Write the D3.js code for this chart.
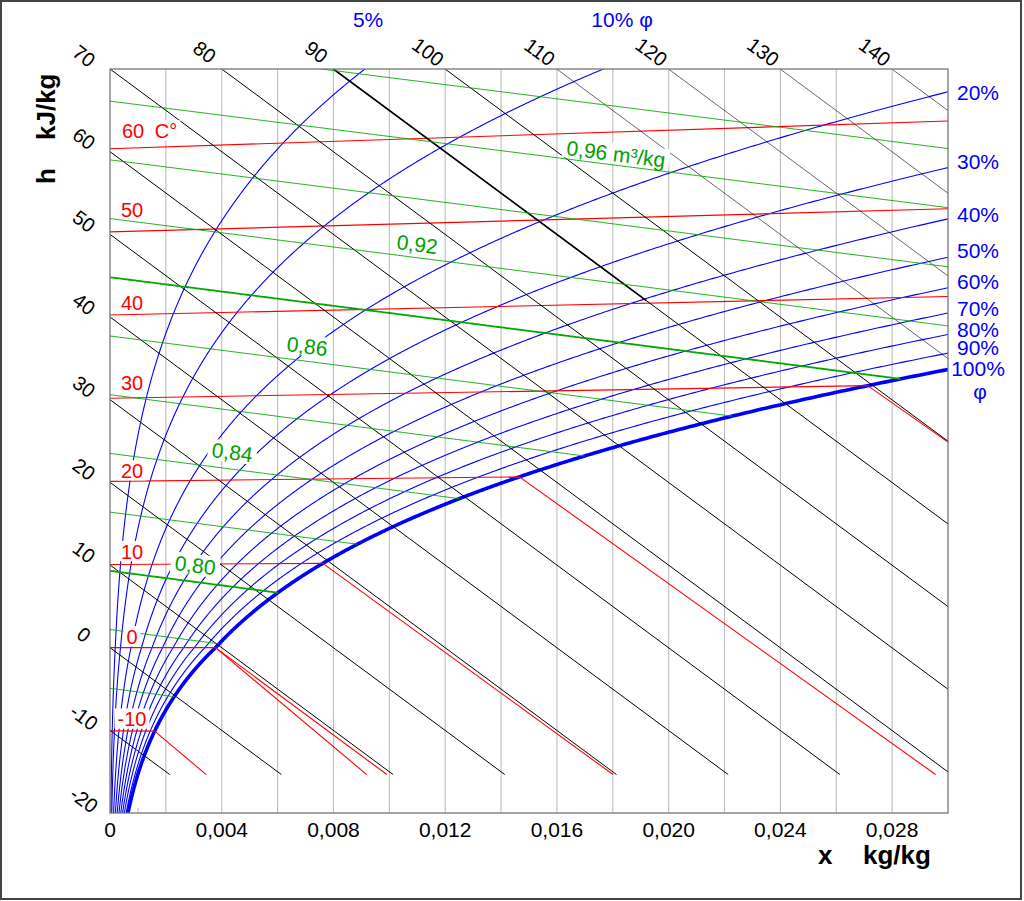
<!DOCTYPE html>
<html><head><meta charset="utf-8">
<script src="https://cdn.jsdelivr.net/npm/d3@7"></script>
<style>html,body{margin:0;padding:0;background:#fff;overflow:hidden}svg{display:block;font-family:"Liberation Sans",Arial,sans-serif}</style>
</head><body>
<svg id="chart" width="1024" height="901"></svg>
<script>
// ---------------- data ----------------
const xTicks = [0, 0.004, 0.008, 0.012, 0.016, 0.020, 0.024, 0.028];
const xTickLabels = ["0", "0,004", "0,008", "0,012", "0,016", "0,020", "0,024", "0,028"];
const xGrid = [0.002, 0.004, 0.006, 0.008, 0.010, 0.012, 0.014, 0.016, 0.018, 0.020, 0.022, 0.024, 0.026, 0.028];
const enthalpyValues = [-20, -10, 0, 10, 20, 30, 40, 50, 60, 70, 80, 90, 100, 110, 120, 130, 140];
const enthalpyLabels = ["-20", "-10", "0", "10", "20", "30", "40", "50", "60", "70", "80", "90", "100", "110", "120", "130", "140"];
const isothermValues = [-10, 0, 10, 20, 30, 40, 50, 60];
const isothermLabels = ["-10", "0", "10", "20", "30", "40", "50", "60 C°"];
const fogTemps = [-10, 0, 0, 10, 20, 30];
const fogPhases = ["ice", "ice", "water", "water", "water", "water"];
const phiValues = [0.05, 0.10, 0.20, 0.30, 0.40, 0.50, 0.60, 0.70, 0.80, 0.90, 1.00];
const phiLabels = ["5%", "10% φ", "20%", "30%", "40%", "50%", "60%", "70%", "80%", "90%", "100%"];
const volumeValues = [0.76, 0.78, 0.80, 0.82, 0.84, 0.86, 0.88, 0.90, 0.92, 0.94, 0.96, 0.98];
const volumeLabels = ["0,80", "0,84", "0,86", "0,92", "0,96 m³/kg"];
// label anchors in chart units (x kg/kg, h - r0·x kJ/kg)
const volumeLabelX = [0.00229, 0.00362, 0.0063, 0.01024, 0.01632];
const volumeLabelY = [9.39, 23.06, 35.88, 48.22, 59.59];

// ---------------- psychrometric relations (p = 101325 Pa) ----------------
const P = 101325, R0 = 2501, CPA = 1.006, CPV = 1.86;
const ps = T => T >= 0 ? 611.2 * Math.exp(17.62 * T / (243.12 + T)) : 611.2 * Math.exp(22.46 * T / (272.62 + T));
const xOf = (T, phi) => { const pv = phi * ps(T); return 0.622 * pv / (P - pv); };
const yOf = (T, x) => CPA * T + CPV * T * x;        // h - r0·x
const tOfV = (v, x) => v * P / (287.05 * (1 + 1.6078 * x)) - 273.15;
const Y_END = -15.35;

// ---------------- scales ----------------
const X = d3.scaleLinear().domain([0, 0.03]).range([110, 948]);
const Y = d3.scaleLinear().domain([-20, 70]).range([813, 69]);
const line = d3.line().x(d => X(d[0])).y(d => Y(d[1]));

const svg = d3.select("#chart");
svg.append("rect").attr("x", 1).attr("y", 1).attr("width", 1020).attr("height", 898)
  .attr("fill", "#fff").attr("stroke", "#444").attr("stroke-width", 2);
svg.append("clipPath").attr("id", "plotclip").append("rect")
  .attr("x", X(0)).attr("y", Y(70)).attr("width", X(0.03) - X(0)).attr("height", Y(-20) - Y(70));

const plot = svg.append("g").attr("clip-path", "url(#plotclip)");
const gGrid = plot.append("g"), gBlue = plot.append("g"), gRed = plot.append("g"), gBlack = plot.append("g");
const gGreenBg = plot.append("g"), gGreen = plot.append("g"), gRedBg = plot.append("g");
const gText = svg.append("g");

// grid
gGrid.selectAll("line").data(xGrid).join("line")
  .attr("x1", d => X(d)).attr("x2", d => X(d)).attr("y1", Y(70)).attr("y2", Y(-20))
  .attr("stroke", "#bdbdbd").attr("stroke-width", 1.1);
gGrid.append("line").attr("x1", X(0.001)).attr("x2", X(0.001)).attr("y1", Y(-20) - 5).attr("y2", Y(-20))
  .attr("stroke", "#bdbdbd").attr("stroke-width", 1.1);

// relative humidity curves
const phiCurves = phiValues.map(phi => {
  const pts = [];
  for (let T = -30; T <= 100; T += 0.1) {
    const x = xOf(T, phi); const yv = yOf(T, x);
    pts.push([x, yv]);
    if (x > 0.031 || yv > 71) break;
  }
  return pts;
});
gBlue.selectAll("path").data(phiCurves).join("path")
  .attr("d", line).attr("fill", "none").attr("stroke", "#0000ff")
  .attr("stroke-width", (d, i) => phiValues[i] === 1 ? 3.6 : 1.1);

// isotherms (unsaturated part)
const isoSegs = isothermValues.map(T => {
  const xe = Math.min(xOf(T, 1), 0.03);
  return [[0, yOf(T, 0)], [xe, yOf(T, xe)]];
});
gRed.selectAll("path.iso").data(isoSegs).join("path").attr("class", "iso")
  .attr("d", line).attr("fill", "none").attr("stroke", "#ff0000").attr("stroke-width", 1.1);
// fog isotherms
const fogSegs = fogTemps.map((T, i) => {
  const xs = xOf(T, 1), ys = yOf(T, xs);
  const hl = fogPhases[i] === "ice" ? -333.4 + 2.05 * T : 4.19 * T;
  const s = hl - R0;
  let xe = xs + (Y_END - ys) / s;
  if (xe > 0.03) xe = 0.03;
  return [[xs, ys], [xe, ys + s * (xe - xs)]];
});
gRed.selectAll("path.fog").data(fogSegs).join("path").attr("class", "fog")
  .attr("d", line).attr("fill", "none").attr("stroke", "#ff0000").attr("stroke-width", 1.1);

// enthalpy lines
const hSegs = enthalpyValues.filter(h => h > Y_END).map(h => {
  const x0 = h <= 70 ? 0 : (h - 70) / R0;
  const xe = Math.min(0.03, (h - Y_END) / R0);
  return { h, pts: [[x0, h - R0 * x0], [xe, h - R0 * xe]] };
});
gBlack.selectAll("path.h").data(hSegs).join("path").attr("class", "h")
  .attr("d", d => line(d.pts)).attr("fill", "none").attr("stroke", "#000")
  .attr("stroke-width", d => d.h >= 110 ? 0.6 : 1.0);
// the 90 kJ/kg line is drawn heavier in its upper part
const h90 = 90, x90a = (h90 - 70) / R0, x90b = 0.0192;
gBlack.append("path").attr("d", line([[x90a, h90 - R0 * x90a], [x90b, h90 - R0 * x90b]]))
  .attr("fill", "none").attr("stroke", "#000").attr("stroke-width", 1.7);

// specific volume lines (end at saturation)
const volCurves = volumeValues.map(v => {
  const pts = [];
  let prev = 0;
  for (let x = 0; x <= 0.0301; x += 0.0001) {
    const T = tOfV(v, x);
    if (x > xOf(T, 1)) {
      let a = prev, b = x;
      for (let k = 0; k < 40; k++) { const m = (a + b) / 2; if (m > xOf(tOfV(v, m), 1)) b = m; else a = m; }
      const Te = tOfV(v, a); pts.push([a, yOf(Te, a)]);
      break;
    }
    pts.push([x, yOf(T, x)]);
    prev = x;
  }
  return pts;
});
gGreen.selectAll("path").data(volCurves).join("path")
  .attr("d", line).attr("fill", "none").attr("stroke", "#00a800")
  .attr("stroke-width", (d, i) => (Math.abs(volumeValues[i] - 0.80) < 1e-6 || Math.abs(volumeValues[i] - 0.90) < 1e-6) ? 1.8 : 0.9);

// ---------------- labels ----------------
function label(str, px, py, opt) {
  const o = Object.assign({ angle: 0, anchor: "start", fs: 20, color: "#000", weight: "normal", bg: null, pad: 4, ws: 0 }, opt);
  const tr = `translate(${px},${py}) rotate(${o.angle})`;
  const t = gText.append("text").attr("transform", tr).attr("text-anchor", o.anchor)
    .attr("font-size", o.fs).attr("font-weight", o.weight).attr("fill", o.color)
    .attr("word-spacing", o.ws).text(str);
  if (o.bg) {
    const w = t.node().getComputedTextLength();
    const x0 = o.anchor === "middle" ? -w / 2 : (o.anchor === "end" ? -w : 0);
    o.bg.append("rect").attr("transform", tr).attr("x", x0 - o.pad).attr("y", -0.74 * o.fs - 3)
      .attr("width", w + 2 * o.pad).attr("height", 0.74 * o.fs + 5.5).attr("fill", "#fff");
  }
  return t;
}

// x axis
xTicks.forEach((t, i) => label(xTickLabels[i], X(t), 837, { anchor: "middle", fs: 21 }));
label("x", 818, 864, { fs: 26, weight: "bold" });
label("kg/kg", 863, 864, { fs: 26, weight: "bold" });
// h axis title
label("h", 55, 184, { fs: 26, weight: "bold", angle: -90 });
label("kJ/kg", 55, 140, { fs: 26, weight: "bold", angle: -90 });

// enthalpy labels
const slopeAngle = Math.atan((Y(-R0 * 0.01) - Y(0)) / (X(0.01) - X(0))) * 180 / Math.PI;
enthalpyValues.forEach((h, i) => {
  let cx, cy;
  if (h <= 70) { cx = X(0) - 26; cy = Y(h) - 13; }
  else { cx = X((h - 70) / R0) - 17; cy = 52; }
  label(enthalpyLabels[i], cx, cy, { anchor: "middle", fs: 20, angle: slopeAngle })
    .attr("dominant-baseline", "central");
});

// isotherm labels
const isoLabelDy = [-4.6, -3.7, -5.8, -3.4, -8.3, -5, -15.3, -10.7];
isothermValues.forEach((T, i) => {
  const py = Y(yOf(T, 0)) + isoLabelDy[i];
  if (i === isothermValues.length - 1) label(isothermLabels[i], 122, py, { fs: 20, color: "#ff0000", bg: gRedBg, pad: 3, ws: 5 });
  else label(isothermLabels[i], 132, py, { anchor: "middle", fs: 20, color: "#ff0000", bg: gRedBg, pad: 3 });
});

// specific volume labels
volumeLabels.forEach((s, i) => {
  label(s, X(volumeLabelX[i]), Y(volumeLabelY[i]), { fs: 21, color: "#00a000", angle: 7.2, bg: gGreenBg, pad: 4 });
});

// relative humidity labels
function exitTop(phi) { let a = -20, b = 100; for (let k = 0; k < 60; k++) { const m = (a + b) / 2; if (yOf(m, xOf(m, phi)) > 70) b = m; else a = m; } return xOf(a, phi); }
function exitRight(phi) { let a = -20, b = 100; for (let k = 0; k < 60; k++) { const m = (a + b) / 2; if (xOf(m, phi) > 0.03) b = m; else a = m; } return yOf(a, 0.03); }
const rightDy = [8, 1, 3, 1, 1, 3, 3, 2, 6];
phiValues.forEach((phi, i) => {
  if (i < 2) {
    label(phiLabels[i], X(exitTop(phi)) - 12, 27, { fs: 21, color: "#0000ff" });
  } else {
    const py = Y(exitRight(phi)) + rightDy[i - 2];
    label(phiLabels[i], 978, py, { anchor: "middle", fs: 21, color: "#0000ff" });
    if (phi === 1) label("φ", 980, py + 23, { anchor: "middle", fs: 21, color: "#0000ff" });
  }
});

// plot border
svg.append("rect").attr("x", X(0)).attr("y", Y(70)).attr("width", X(0.03) - X(0)).attr("height", Y(-20) - Y(70))
  .attr("fill", "none").attr("stroke", "#777").attr("stroke-width", 1.3);
</script>
</body></html>
